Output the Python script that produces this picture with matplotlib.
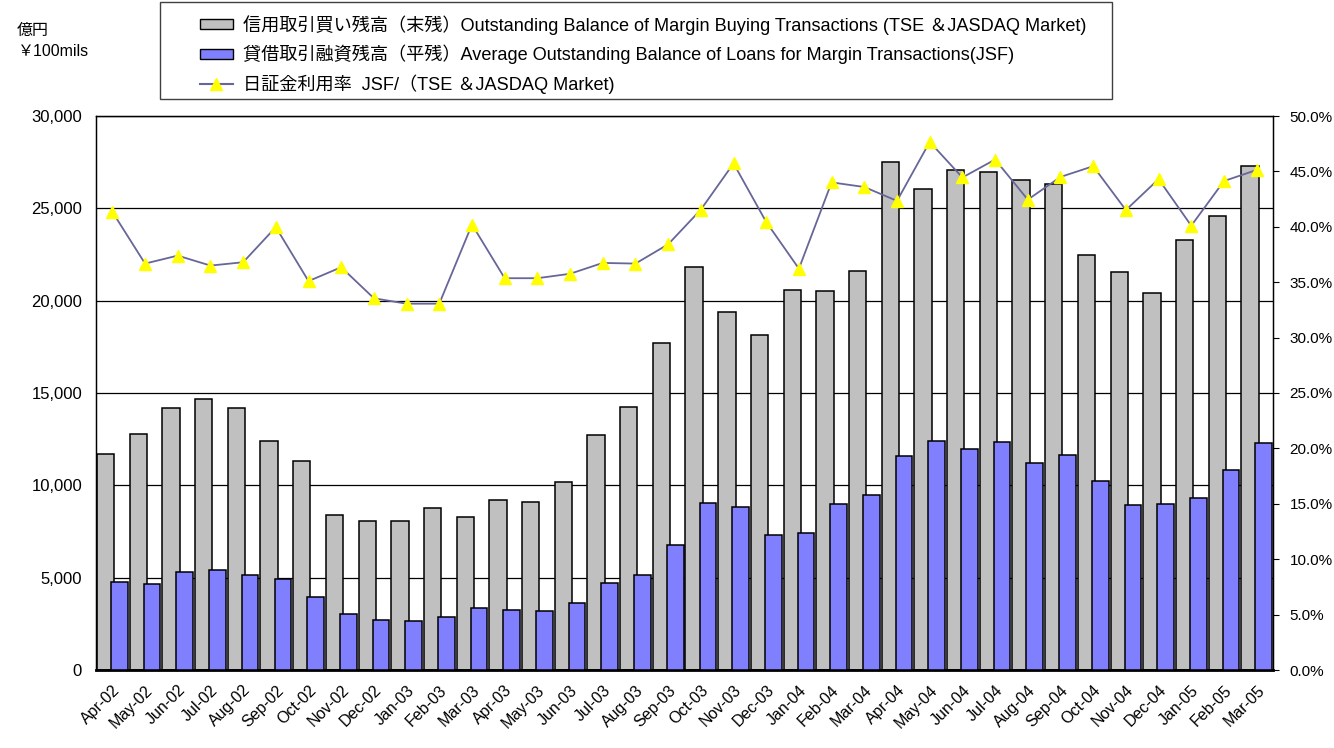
#!/usr/bin/env python3
"""Margin buying balance vs JSF loans, Apr-02 to Mar-05."""
import matplotlib
matplotlib.use('Agg')
import matplotlib.pyplot as plt
import matplotlib.transforms as mtransforms
import numpy as np
from matplotlib.patches import Patch, Rectangle
from matplotlib.lines import Line2D
from matplotlib.ticker import FuncFormatter, MultipleLocator

plt.rcParams['font.family'] = ['Liberation Sans', 'Noto Sans CJK JP', 'DejaVu Sans']

# ---- data ----
months = ['Apr-02', 'May-02', 'Jun-02', 'Jul-02', 'Aug-02', 'Sep-02', 'Oct-02', 'Nov-02',
          'Dec-02', 'Jan-03', 'Feb-03', 'Mar-03', 'Apr-03', 'May-03', 'Jun-03', 'Jul-03',
          'Aug-03', 'Sep-03', 'Oct-03', 'Nov-03', 'Dec-03', 'Jan-04', 'Feb-04', 'Mar-04',
          'Apr-04', 'May-04', 'Jun-04', 'Jul-04', 'Aug-04', 'Sep-04', 'Oct-04', 'Nov-04',
          'Dec-04', 'Jan-05', 'Feb-05', 'Mar-05']
margin_buying = [11700, 12800, 14200, 14700, 14200, 12400, 11300, 8400,
                 8050, 8050, 8750, 8300, 9200, 9100, 10200, 12700,
                 14250, 17700, 21800, 19400, 18150, 20600, 20500, 21600,
                 27500, 26050, 27100, 26950, 26550, 26300, 22450, 21550,
                 20400, 23300, 24600, 27300]
jsf_loans = [4780, 4640, 5310, 5390, 5170, 4930, 3950, 3020,
             2720, 2650, 2880, 3350, 3260, 3180, 3630, 4700,
             5150, 6770, 9060, 8820, 7300, 7440, 8980, 9450,
             11590, 12420, 11970, 12360, 11210, 11660, 10230, 8920,
             9000, 9300, 10830, 12280]
usage_rate = [41.35, 36.68, 37.4, 36.5, 36.8, 39.97, 35.1, 36.35,
              33.55, 33.06, 33.06, 40.2, 35.36, 35.36, 35.76, 36.74,
              36.68, 38.42, 41.55, 45.72, 40.43, 36.22, 44.01, 43.59,
              42.34, 47.66, 44.45, 46.07, 42.45, 44.5, 45.47, 41.51,
              44.3, 40.1, 44.13, 45.13]

lbl_buy = '信用取引買い残高（末残）Outstanding Balance of Margin Buying Transactions (TSE ＆JASDAQ Market)'
lbl_loan = '貸借取引融資残高（平残）Average Outstanding Balance of Loans for Margin Transactions(JSF)'
lbl_rate = '日証金利用率  JSF/（TSE ＆JASDAQ Market)'

GRAY = '#C0C0C0'
BLUE = '#8080FF'
LINE = '#666699'

x = np.arange(len(months))

fig = plt.figure(figsize=(13.34, 7.48), dpi=100)
ax = fig.add_axes([96/1334, 1-670/748, (1273-96)/1334, (670-116)/748])

ax.bar(x - 0.47, margin_buying, width=0.53, align='edge', color=GRAY,
       edgecolor='black', linewidth=1.1, zorder=2)
ax.bar(x - 0.04, jsf_loans, width=0.51, align='edge', color=BLUE,
       edgecolor='black', linewidth=1.1, zorder=3)

ax.set_xlim(-0.5, len(months) - 0.5)
ax.set_ylim(0, 30000)
ax.yaxis.set_major_locator(MultipleLocator(5000))
ax.yaxis.set_major_formatter(FuncFormatter(lambda v, p: f'{v:,.0f}'))
ax.grid(axis='y', color='black', linewidth=0.9, zorder=0)
ax.set_axisbelow(True)
ax.set_xticks(x)
ax.set_xticklabels(months, rotation=45, ha='right', va='top',
                   rotation_mode='anchor', fontsize=11.5)
shift = mtransforms.ScaledTranslation(-8/100, 0, fig.dpi_scale_trans)
for t in ax.get_xticklabels():
    t.set_transform(t.get_transform() + shift)
ax.tick_params(axis='x', length=0, pad=9)
ax.tick_params(axis='y', length=0, labelsize=12, pad=10)
for s in ['left', 'right', 'top']:
    ax.spines[s].set_linewidth(1.0)
ax.spines['bottom'].set_linewidth(2.0)

ax2 = ax.twinx()
ax2.plot(x, usage_rate, color=LINE, linewidth=1.3, marker='^', markersize=9,
         markerfacecolor='yellow', markeredgecolor='yellow', zorder=5)
ax2.set_ylim(0, 50)
ax2.yaxis.set_major_locator(MultipleLocator(5))
ax2.yaxis.set_major_formatter(FuncFormatter(lambda v, p: f'{v:.1f}%'))
ax2.tick_params(axis='y', direction='out', length=4, labelsize=11, pad=8)

# unit label, top-left
fig.text(17/1334, 1-41/748, '億円\n￥100mils', fontsize=11.5, va='center', ha='left',
         linespacing=1.5)

# legend with its own frame
fig.add_artist(Rectangle((160/1334, 1-99/748), (1112-160)/1334, 97/748,
                         transform=fig.transFigure, fill=False,
                         edgecolor='#404040', linewidth=1.0))
handles = [Patch(facecolor=GRAY, edgecolor='black', label=lbl_buy),
           Patch(facecolor=BLUE, edgecolor='black', label=lbl_loan),
           Line2D([], [], color=LINE, marker='^', markersize=9,
                  markerfacecolor='yellow', markeredgecolor='yellow', label=lbl_rate)]
fig.legend(handles=handles, loc='upper left', bbox_to_anchor=(200/1334, 1-15/748),
           frameon=False, fontsize=13.1, handlelength=1.8, handleheight=0.45,
           handletextpad=0.55, labelspacing=0.55, borderpad=0, borderaxespad=0)

fig.savefig('out.png', dpi=100, facecolor='white')
plt.close()
